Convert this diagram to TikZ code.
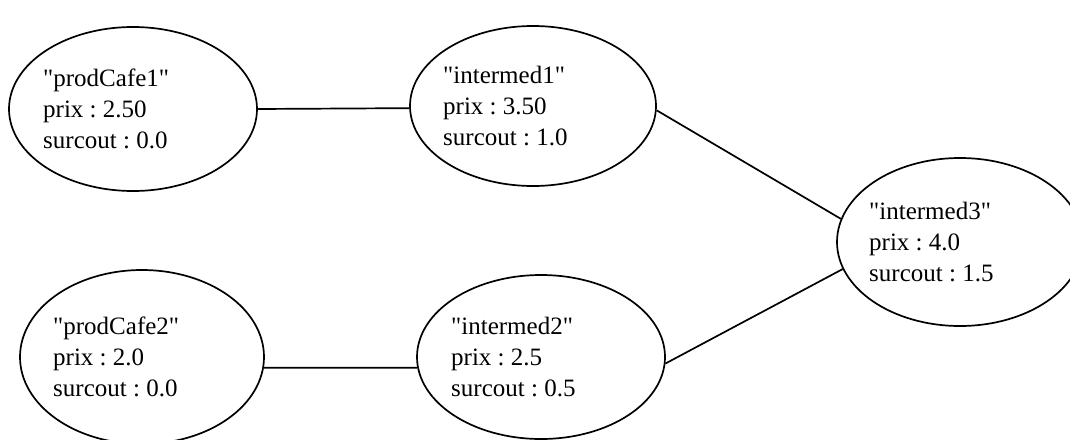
\documentclass[tikz,border=0pt]{standalone}
\usepackage{fontspec}
\setmainfont{Liberation Serif}[Ligatures=TeXOff]
\usetikzlibrary{shapes.geometric}
\frenchspacing
\begin{document}
\begin{tikzpicture}[x=1pt,y=-1pt,
  oval/.style={draw=black, line width=1.7pt, ellipse, inner sep=0pt},
  lbl/.style={anchor=west, align=left, inner sep=0pt,
    font=\fontsize{25pt}{31pt}\selectfont},
  link/.style={draw=black, line width=1.7pt}]
\useasboundingbox (0,0) rectangle (1070,439);
\clip (0,0) rectangle (1070,439);
\node[oval, minimum width=248pt, minimum height=164pt] (p1) at (133,109) {};
\node[oval, minimum width=246pt, minimum height=160pt] (i1) at (533,106) {};
\node[oval, minimum width=246pt, minimum height=168pt] (i3) at (960,242) {};
\node[oval, minimum width=244pt, minimum height=174pt] (p2) at (142,357) {};
\node[oval, minimum width=248pt, minimum height=164pt] (i2) at (541,357) {};
\node[lbl] (p1t) at ([xshift=-90pt]p1.center) {"prodCafe1"\\prix : 2.50\\surcout : 0.0};
\node[lbl] (i1t) at ([xshift=-90pt]i1.center) {"intermed1"\\prix : 3.50\\surcout : 1.0};
\node[lbl] (i3t) at ([xshift=-91pt]i3.center) {"intermed3"\\prix : 4.0\\surcout : 1.5};
\node[lbl] (p2t) at ([xshift=-89pt]p2.center) {"prodCafe2"\\prix : 2.0\\surcout : 0.0};
\node[lbl] (i2t) at ([xshift=-90pt]i2.center) {"intermed2"\\prix : 2.5\\surcout : 0.5};
\draw[link] (p1.east) -- (i1.181);
\draw[link] (i1.-2) -- (i3.169);
\draw[link] (i2.-3) -- (i3.193);
\draw[link] (p2.-5) -- (i2.185);
\end{tikzpicture}
\end{document}
